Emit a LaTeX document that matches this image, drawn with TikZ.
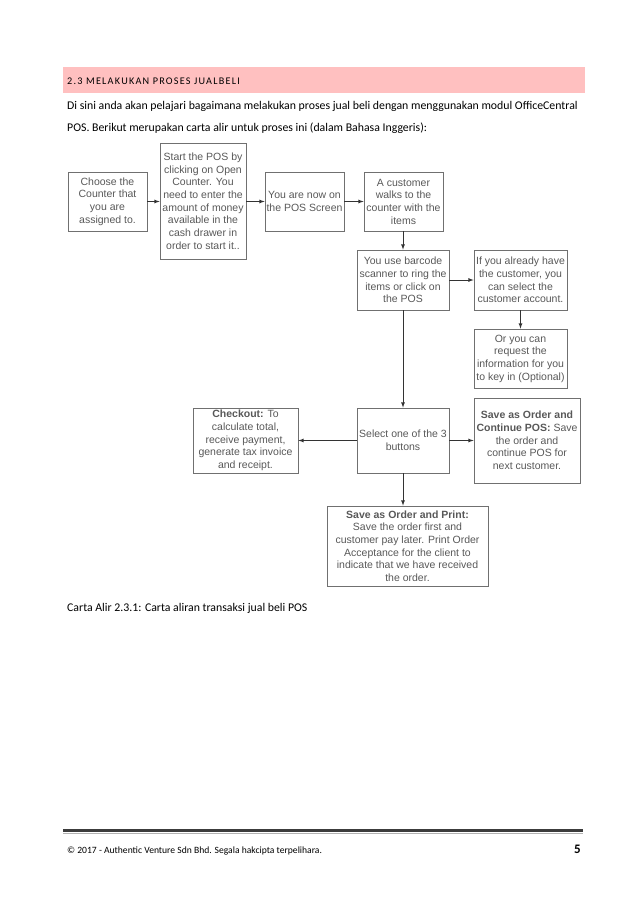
\documentclass[tikz,border=0pt]{standalone}
\usepackage{fontspec}
\setmainfont{Carlito}
\newfontfamily\boxfont{Liberation Sans}
\newfontfamily\headfont[LetterSpace=12]{Carlito}
\usetikzlibrary{arrows}
\definecolor{headpink}{RGB}{255, 192, 192}
\definecolor{boxgray}{RGB}{112, 112, 112}
\definecolor{inkgray}{RGB}{88, 88, 88}
\definecolor{rulegray}{RGB}{60, 60, 60}

\begin{document}
\begin{tikzpicture}[x=1pt, y=-1pt,
    stepbox/.style={draw=boxgray, line width=0.8pt, align=center, text=inkgray,
                    font=\boxfont\fontsize{10.5}{12.7}\selectfont, inner sep=1pt},
    flow/.style={draw=black!80, line width=0.8pt, -latex},
    bodytext/.style={anchor=base west, inner sep=0pt, font=\fontsize{11.8}{14}\selectfont}]
    \useasboundingbox (0,0) rectangle (638,903);
    % Heading band
    \fill[headpink] (63,67) rectangle (585,93);
    \node[anchor=base west, inner sep=0pt, font=\headfont\fontsize{10.2}{11}\selectfont] (head) at (67,84) {2.3 MELAKUKAN PROSES JUALBELI};
    % Introduction
    \node[bodytext] (introA) at (67,109) {Di sini anda akan pelajari bagaimana melakukan proses jual beli dengan menggunakan modul OfficeCentral};
    \node[bodytext] (introB) at (67,131) {POS. Berikut merupakan carta alir untuk proses ini (dalam Bahasa Inggeris):};
    % Top row
    \node[stepbox, minimum width=79pt, minimum height=59pt] (choose) at (107.5,201.5)
         {Choose the\\Counter that\\you are\\assigned to.};
    \node[stepbox, minimum width=86pt, minimum height=116pt] (start) at (203,201)
         {Start the POS by\\clicking on Open\\Counter. You\\need to enter the\\amount of money\\available in the\\cash drawer in\\order to start it..};
    \node[stepbox, minimum width=79pt, minimum height=59pt] (screen) at (304.5,201.5)
         {You are now on\\the POS Screen};
    \node[stepbox, minimum width=79pt, minimum height=59pt] (walk) at (403.5,201.5)
         {A customer\\walks to the\\counter with the\\items};
    % Scanning and customer
    \node[stepbox, minimum width=92pt, minimum height=60pt] (scan) at (403,280)
         {You use barcode\\scanner to ring the\\items or click on\\the POS};
    \node[stepbox, minimum width=93pt, minimum height=60pt] (account) at (520.5,280)
         {If you already have\\the customer, you\\can select the\\customer account.};
    \node[stepbox, minimum width=93pt, minimum height=59pt] (request) at (520.5,358.5)
         {Or you can\\request the\\information for you\\to key in (Optional)};
    % Three buttons
    \node[stepbox, minimum width=92pt, minimum height=65pt] (select) at (403,440.5)
         {Select one of the 3\\buttons};
    \node[stepbox, minimum width=105pt, minimum height=65pt] (checkout) at (245.5,440.5)
         {\textbf{Checkout:} To\\calculate total,\\receive payment,\\generate tax invoice\\and receipt.};
    \node[stepbox, minimum width=106pt, minimum height=85pt] (continue) at (527,440.5)
         {\textbf{Save as Order and}\\\textbf{Continue POS:} Save\\the order and\\continue POS for\\next customer.};
    \node[stepbox, minimum width=161pt, minimum height=80pt] (print) at (407.5,546)
         {\textbf{Save as Order and Print:}\\Save the order first and\\customer pay later. Print Order\\Acceptance for the client to\\indicate that we have received\\the order.};
    % Connectors
    \draw[flow] (choose.east) -- (choose.east -| start.west);
    \draw[flow] (start.east |- screen.west) -- (screen.west);
    \draw[flow] (screen.east) -- (walk.west);
    \draw[flow] (walk.south -| scan.north) -- (scan.north);
    \draw[flow] (scan.east) -- (account.west);
    \draw[flow] (account.south) -- (request.north);
    \draw[flow] (scan.south) -- (select.north);
    \draw[flow] (select.west) -- (checkout.east);
    \draw[flow] (select.east) -- (continue.west);
    \draw[flow] (select.south) -- (select.south |- print.north);
    % Caption
    \node[bodytext] (caption) at (67,611) {Carta Alir 2.3.1: Carta aliran transaksi jual beli POS};
    % Footer
    \fill[rulegray] (63,829) rectangle (583,832);
    \draw[gray!60, line width=0.7pt] (63,833) -- (583,833);
    \node[anchor=base west, inner sep=0pt, font=\fontsize{9.6}{11}\selectfont] (copy) at (67,853) {© 2017 - Authentic Venture Sdn Bhd. Segala hakcipta terpelihara.};
    \node[anchor=base east, inner sep=0pt, font=\bfseries\fontsize{13}{14}\selectfont] (page) at (581,853) {5};
\end{tikzpicture}
\end{document}
